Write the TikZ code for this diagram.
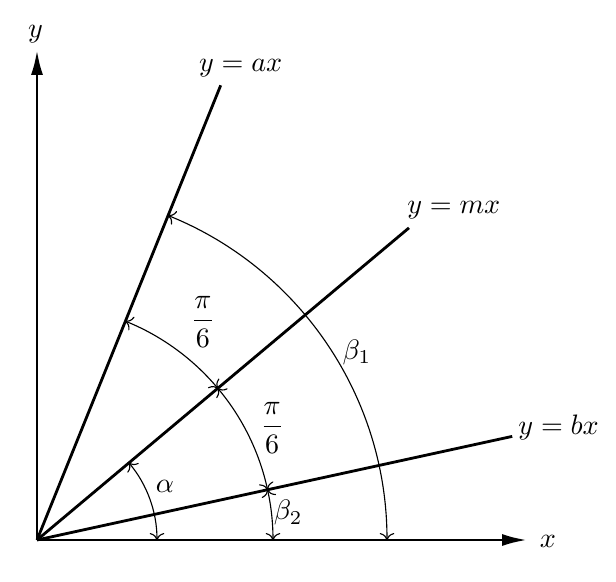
\documentclass[tikz,border=0pt]{standalone}
\usepackage{amsmath}
\usepackage{tikz}
\usetikzlibrary{arrows.meta, calc, positioning}

\begin{document}
\begin{tikzpicture}[ray/.style={line width=1pt}, axis/.style={line width=1pt, -{Latex[length=3.1mm,width=1.5mm]}}, angarc/.style={thin, <->}]
 \useasboundingbox (-0.4625,-0.5125) rectangle (7.2375,6.75);
 \coordinate (O) at (0,0);
 \coordinate (xend) at (6.125,0);
 \coordinate (yend) at (0,6.125);
 \coordinate (aend) at (68:6.13);
 \coordinate (mend) at (40:6.07);
 \coordinate (bend) at (12.3:6.08);
 % axes
 \draw[axis] (O) -- (xend);
 \draw[axis] (O) -- (yend);
 \node (xlab) at ([shift={(0.26,-0.02)}]xend) {$x$};
 \node (ylab) at ([shift={(-0.02,0.2)}]yend) {$y$};
 % rays
 \draw[ray] (O) -- (aend);
 \draw[ray] (O) -- (mend);
 \draw[ray] (O) -- (bend);
 \node (alab) at ([shift={(0.25,0.21)}]aend) {$y=ax$};
 \node (mlab) at ([shift={(0.56,0.22)}]mend) {$y=mx$};
 \node (blab) at ([shift={(0.58,0.11)}]bend) {$y=bx$};
 % angles
 \draw[angarc] (O) ++(0:1.5) arc[start angle=0, end angle=40, radius=1.5];
 \draw[angarc] (O) ++(0:2.95) arc[start angle=0, end angle=12.3, radius=2.95];
 \draw[angarc] (O) ++(12.3:2.95) arc[start angle=12.3, end angle=40, radius=2.95];
 \draw[angarc] (O) ++(40:2.95) arc[start angle=40, end angle=68, radius=2.95];
 \draw[angarc] (O) ++(0:4.375) arc[start angle=0, end angle=68, radius=4.375];
 \node (alpha) at (1.6,0.675) {$\alpha$};
 \node (sixa) at (2.075,2.725) {$\dfrac{\pi}{6}$};
 \node (sixb) at (2.94,1.4) {$\dfrac{\pi}{6}$};
 \node (beta1) at (4.0,2.35) {$\beta_1$};
 \node (beta2) at (3.14,0.34) {$\beta_2$};
\end{tikzpicture}
\end{document}
